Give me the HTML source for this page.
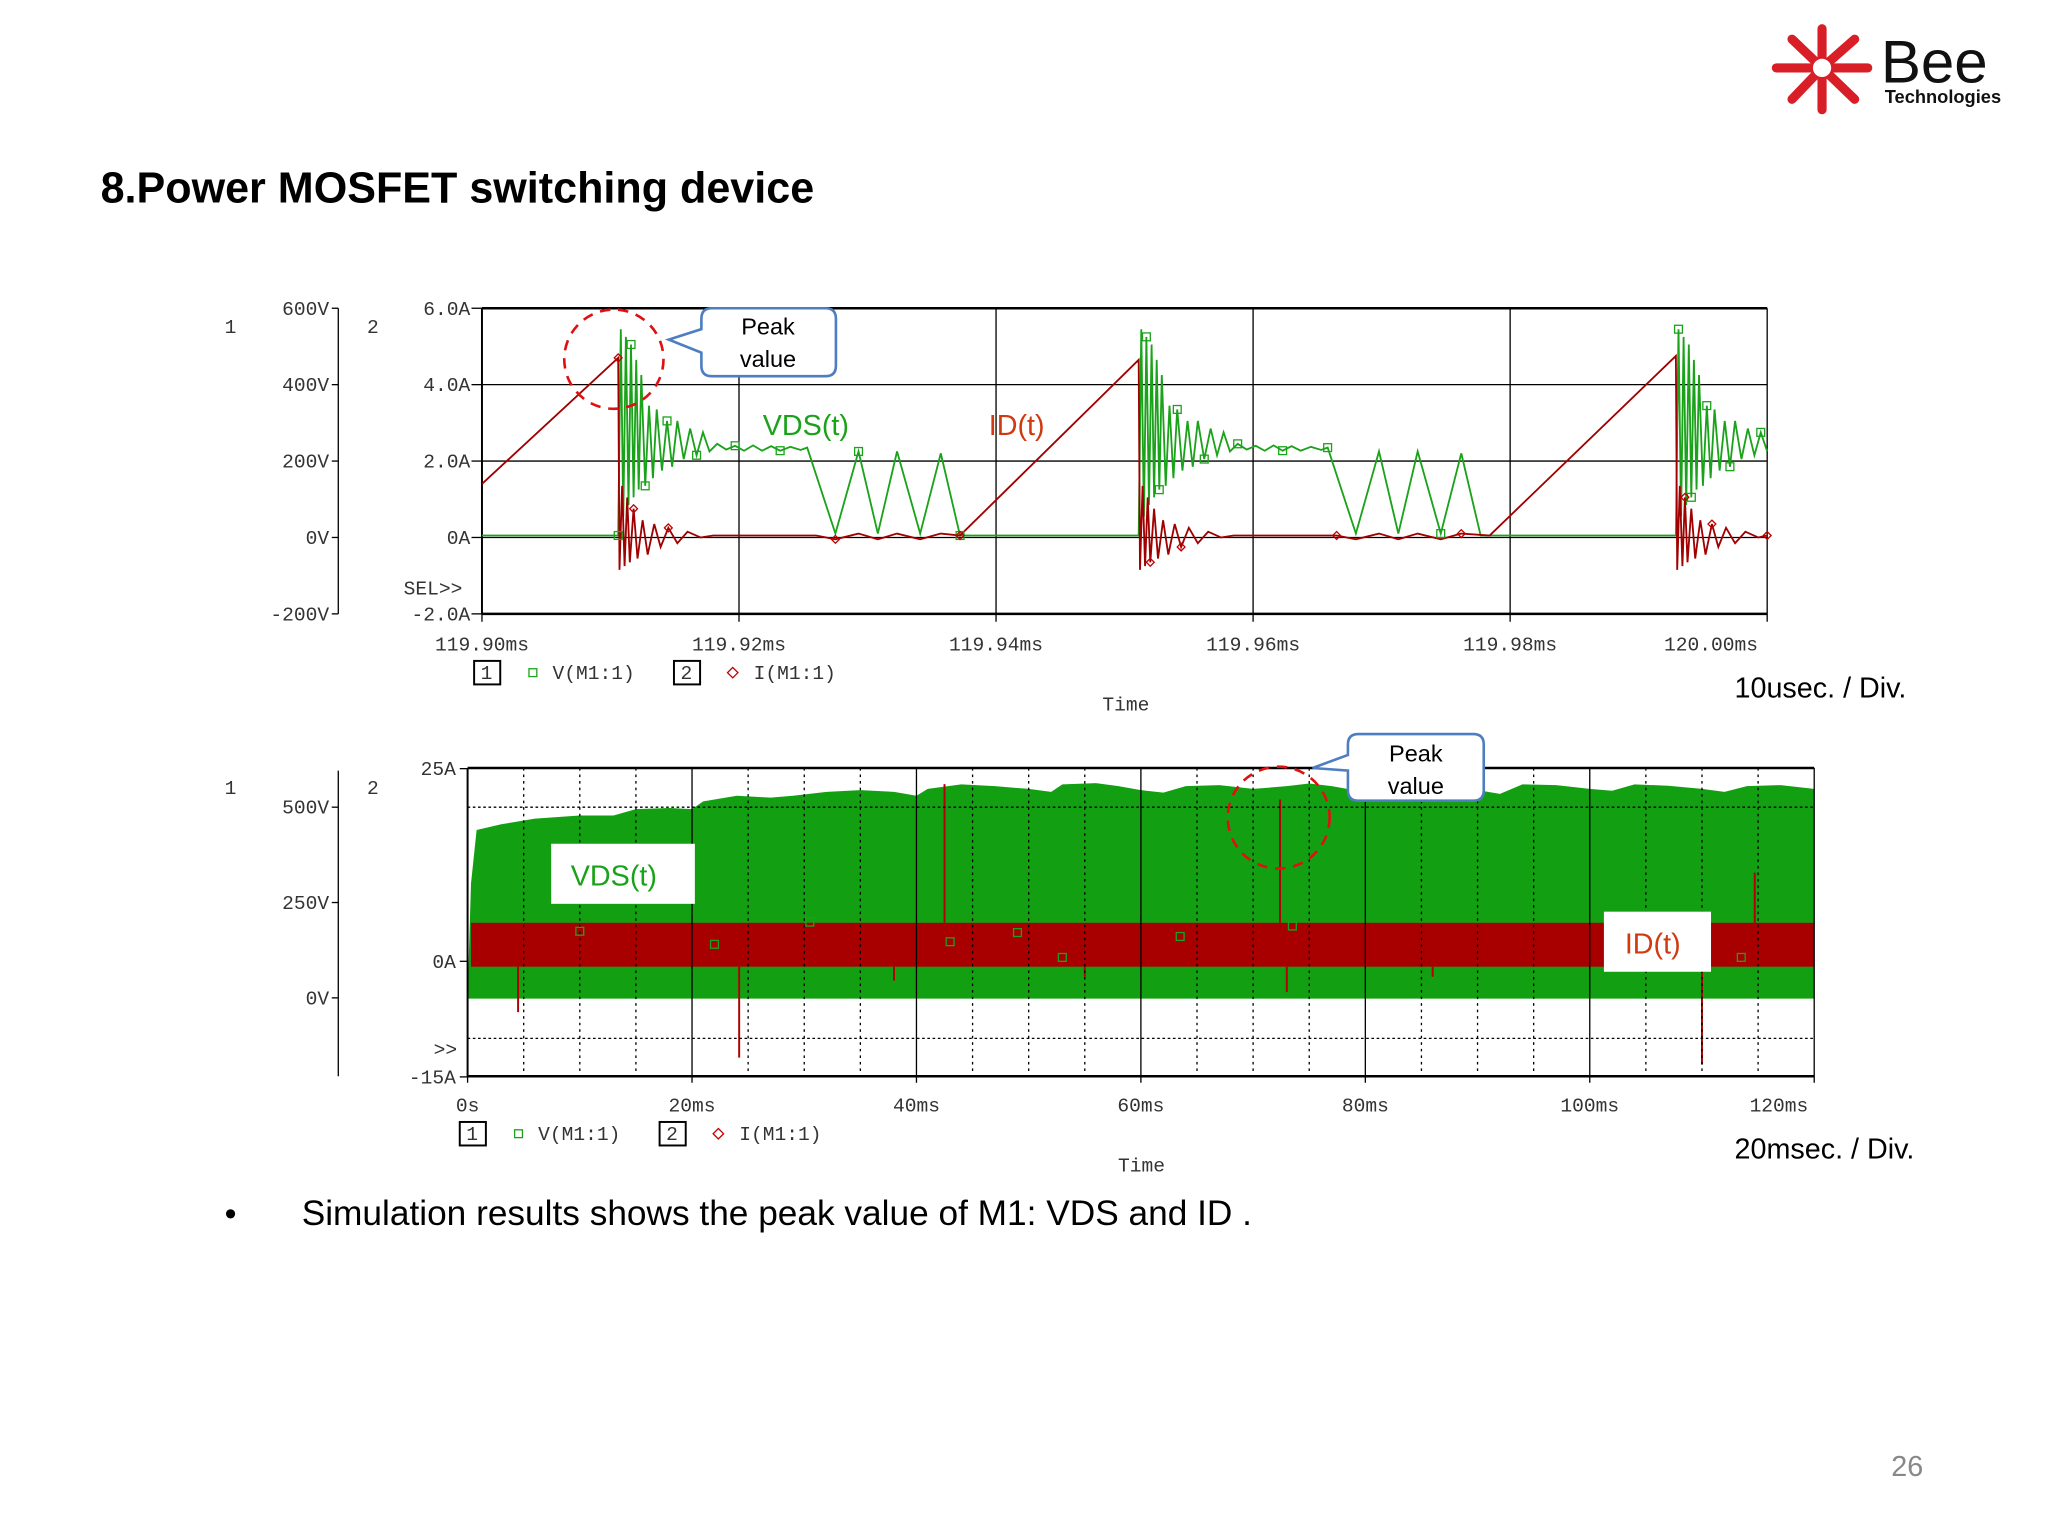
<!DOCTYPE html>
<html><head><meta charset="utf-8">
<style>
html,body{margin:0;padding:0;background:#fff;}
svg{display:block;}
.mono{font-family:"Liberation Mono",monospace;font-size:15px;fill:#333;}
.sans{font-family:"Liberation Sans",sans-serif;}
</style></head>
<body>
<svg id="s" width="2048" height="1536" viewBox="0 0 1568 1176" xmlns="http://www.w3.org/2000/svg">
<rect width="1568" height="1176" fill="#fff"/>
<g id="logo">
  <g stroke="#d81e26" stroke-width="7" stroke-linecap="round">
    <line x1="1395" y1="52" x2="1395" y2="22"/><line x1="1395" y1="52" x2="1395" y2="84"/>
    <line x1="1395" y1="52" x2="1360" y2="52"/><line x1="1395" y1="52" x2="1430" y2="52"/>
    <line x1="1395" y1="52" x2="1372" y2="30"/><line x1="1395" y1="52" x2="1420" y2="30"/>
    <line x1="1395" y1="52" x2="1372" y2="76"/><line x1="1395" y1="52" x2="1420" y2="76"/>
  </g>
  <circle cx="1395" cy="52" r="7" fill="#fff"/>
  <text x="1440" y="63" class="sans" font-size="46" fill="#111">Bee</text>
  <text x="1443" y="79" class="sans" font-size="14" font-weight="bold" fill="#111">Technologies</text>
</g>
<text x="77" y="155" class="sans" font-size="33" font-weight="bold" fill="#000">8.Power MOSFET switching device</text>
<g id="top"></g>
<g id="bot"></g>
<text x="172" y="938" class="sans" font-size="26" fill="#000">•</text>
<text x="231" y="938" class="sans" font-size="27" fill="#000">Simulation results shows the peak value of M1: VDS and ID .</text>
<text x="1448" y="1130" class="sans" font-size="22" fill="#888">26</text>
</svg>
<script>
// ---------- TOP CHART DATA (time in µs after 119.90ms) ----------
const topXTicks = ["119.90ms","119.92ms","119.94ms","119.96ms","119.98ms","120.00ms"];
const topVTicks = ["600V","400V","200V","0V","-200V"];
const topITicks = ["6.0A","4.0A","2.0A","0A","-2.0A"];
const vdsT = [0,10.5,10.6,10.8,11.0,11.2,11.4,11.6,11.8,12.0,12.2,12.4,12.7,13.0,13.3,13.6,14.0,14.4,14.8,15.2,15.7,16.2,16.7,17.2,17.7,18.3,19.0,19.7,20.4,21.1,21.8,22.5,23.2,24.0,24.8,25.3,27.5,29.3,30.8,32.3,34.1,35.7,37.2,
 51.0,51.1,51.3,51.5,51.7,51.9,52.1,52.3,52.5,52.7,52.9,53.2,53.5,53.8,54.1,54.5,54.9,55.3,55.7,56.2,56.7,57.2,57.7,58.2,58.8,59.5,60.2,60.9,61.6,62.3,63.0,63.7,64.5,65.3,65.8,68.0,69.8,71.3,72.8,74.6,76.2,77.7,
 92.8,92.9,93.1,93.3,93.5,93.7,93.9,94.1,94.3,94.5,94.7,95.0,95.3,95.6,95.9,96.3,96.7,97.1,97.5,98.0,98.5,99.0,99.5,100];
const vdsV = [0,0,0,540,50,520,80,500,100,460,120,420,130,340,150,330,170,300,180,300,200,280,210,270,220,240,225,235,222,236,222,234,222,232,224,230,5,220,5,220,5,215,0,
 0,0,540,50,520,80,500,100,460,120,420,130,340,150,330,170,300,180,300,200,280,210,270,220,240,225,235,222,236,222,234,222,232,224,230,5,220,5,220,5,215,0,
 0,0,540,50,520,80,500,100,460,120,420,130,340,150,330,170,300,180,300,200,280,210,270,220];
const idT = [0,10.6,10.7,10.9,11.1,11.3,11.5,11.8,12.1,12.5,12.9,13.4,13.9,14.5,15.2,16.0,17.0,18.0,26.0,27.5,29.3,30.8,32.3,34.1,35.7,37.2,
 51.1,51.2,51.4,51.6,51.8,52.0,52.3,52.6,53.0,53.4,53.9,54.4,55.0,55.7,56.5,57.5,58.5,66.5,68.0,69.8,71.3,72.8,74.6,76.2,78.4,
 92.9,93.0,93.2,93.4,93.6,93.8,94.1,94.4,94.8,95.2,95.7,96.2,96.8,97.5,98.3,99.3,100];
const idV = [1.35,4.65,-0.9,1.3,-0.8,1.0,-0.7,0.7,-0.6,0.4,-0.5,0.3,-0.3,0.2,-0.2,0.1,-0.05,0,0,-0.1,0.05,-0.1,0.05,-0.1,0.05,0,
 4.6,-0.9,1.3,-0.8,1.0,-0.7,0.7,-0.6,0.4,-0.5,0.3,-0.3,0.2,-0.2,0.1,-0.05,0,0,-0.1,0.05,-0.1,0.05,-0.1,0.05,0,
 4.7,-0.9,1.3,-0.8,1.0,-0.7,0.7,-0.6,0.4,-0.5,0.3,-0.3,0.2,-0.2,0.1,-0.05,0];
// ---------- BOTTOM CHART DATA (time in ms) ----------
const botXTicks = ["0s","20ms","40ms","60ms","80ms","100ms","120ms"];
const botVTicks = ["500V","250V","0V"];
const botITicks = ["25A","0A","-15A"];
const envT = [0,0.3,0.8,3,6,10,13,15,18,20,21,24,27,29,32,35,38,40,41,44,47,50,52,53,56,58,60,62,64,67,70,73,75,77,79,81,84,87,90,92,94,97,100,102,104,107,110,112,114,117,120];
const envV = [0,300,440,455,470,478,478,495,498,495,515,530,525,530,540,545,540,530,548,560,555,548,540,560,563,555,545,538,555,558,548,555,562,555,545,560,560,548,545,535,560,558,548,543,560,556,548,540,555,558,548];
const idBandMax = 5.0;
const idBandMin = -0.7;
const spikeT = [4.5,24.2,42.5,72.4,73.0,110.0,114.7,38,55,86];
const spikeA = [-6.6,-12.5,23,21,-4,-13.4,11.5,-2.5,-2,-2];

const NS="http://www.w3.org/2000/svg";
function mk(parent,tag,attrs,name,txt){
  const e=document.createElementNS(NS,tag);
  for(const k in attrs) e.setAttribute(k,attrs[k]);
  
  
  if(txt!==undefined) e.textContent=txt;
  parent.appendChild(e); return e;
}
// ===== TOP =====
(function(){
  const g=document.getElementById('top');
  const L=369,R=1353,T=236,B=470;
  const x=t=>L+(R-L)*t/100;
  const yI=a=>410-a*29.25;
  const yV=v=>410-v*0.2925;
  for(let i=0;i<5;i++){const yy=T+i*58.5;
    mk(g,'line',{x1:L,x2:R,y1:yy,y2:yy,stroke:'#000','stroke-width':(i==0||i==4)?2:1},'h-grid');
    mk(g,'line',{x1:361,x2:L,y1:yy,y2:yy,stroke:'#000'},'i-tick');
    mk(g,'line',{x1:254,x2:259,y1:yy,y2:yy,stroke:'#000'},'v-tick');
    mk(g,'text',{x:360,y:yy+5,'text-anchor':'end',class:'mono'},'i-tick-label',topITicks[i]);
    mk(g,'text',{x:252,y:yy+5,'text-anchor':'end',class:'mono'},'v-tick-label',topVTicks[i]);
  }
  for(let i=0;i<6;i++){const xx=x(i*20);
    mk(g,'line',{x1:xx,x2:xx,y1:T,y2:B+6,stroke:'#000','stroke-width':1},'v-grid');
    mk(g,'text',{x:i==5?1310:xx,y:498,'text-anchor':'middle',class:'mono'},'x-tick-label',topXTicks[i]);
  }
  mk(g,'line',{x1:L,x2:L,y1:T,y2:B,stroke:'#000','stroke-width':1.5},'i-axis');
  mk(g,'line',{x1:259,x2:259,y1:T,y2:B,stroke:'#000'},'v-axis');
  mk(g,'text',{x:172,y:255,class:'mono'},'axis-1-label','1');
  mk(g,'text',{x:281,y:255,class:'mono'},'axis-2-label','2');
  mk(g,'text',{x:309,y:455,class:'mono'},'sel-marker','SEL>>');
  let p=vdsT.map((t,i)=>x(t).toFixed(1)+','+yV(vdsV[i]).toFixed(1)).join(' ');
  mk(g,'polyline',{points:p,fill:'none',stroke:'#1aa31a','stroke-width':1.4},'vds-line');
  p=idT.map((t,i)=>x(t).toFixed(1)+','+yI(idV[i]).toFixed(1)).join(' ');
  mk(g,'polyline',{points:p,fill:'none',stroke:'#a00000','stroke-width':1.4},'id-line');
  vdsT.forEach((t,i)=>{ if(i%5==2) mk(g,'rect',{x:x(t)-3,y:yV(vdsV[i])-3,width:6,height:6,fill:'none',stroke:'#1aa31a'},'vds-marker');});
  idT.forEach((t,i)=>{ if(i%6==1){const cx=x(t),cy=yI(idV[i]); mk(g,'polygon',{points:`${cx},${cy-3} ${cx+3},${cy} ${cx},${cy+3} ${cx-3},${cy}`,fill:'none',stroke:'#c00000'},'id-marker');}});
  mk(g,'circle',{cx:470,cy:275,r:38,fill:'none',stroke:'#e01010','stroke-width':2,'stroke-dasharray':'8,6'},'peak-circle');
  mk(g,'path',{d:'M545,236 H632 Q640,236 640,244 V280 Q640,288 632,288 H545 Q537,288 537,280 V270 L512,260 L537,252 V244 Q537,236 545,236 Z',fill:'#fff',stroke:'#4f7ec0','stroke-width':2},'peak-callout');
  mk(g,'text',{x:588,y:256,'text-anchor':'middle',class:'sans','font-size':18,fill:'#000'},'callout-text','Peak');
  mk(g,'text',{x:588,y:281,'text-anchor':'middle',class:'sans','font-size':18,fill:'#000'},'callout-text','value');
  mk(g,'text',{x:584,y:333,class:'sans','font-size':22,fill:'#1aa31a'},'vds-label','VDS(t)');
  mk(g,'text',{x:757,y:333,class:'sans','font-size':22,fill:'#d03a10'},'id-label','ID(t)');
  mk(g,'rect',{x:363,y:506,width:20,height:18,fill:'none',stroke:'#000','stroke-width':1.5},'legend-box-1');
  mk(g,'text',{x:368,y:520,class:'mono'},'legend-num','1');
  mk(g,'rect',{x:405,y:512,width:6,height:6,fill:'none',stroke:'#1aa31a'},'legend-vds-marker');
  mk(g,'text',{x:423,y:520,class:'mono'},'legend-vds','V(M1:1)');
  mk(g,'rect',{x:516,y:506,width:20,height:18,fill:'none',stroke:'#000','stroke-width':1.5},'legend-box-2');
  mk(g,'text',{x:521,y:520,class:'mono'},'legend-num','2');
  mk(g,'polygon',{points:'561,511 565,515 561,519 557,515',fill:'none',stroke:'#c00000'},'legend-id-marker');
  mk(g,'text',{x:577,y:520,class:'mono'},'legend-id','I(M1:1)');
  mk(g,'text',{x:862,y:544,'text-anchor':'middle',class:'mono'},'x-axis-title','Time');
  mk(g,'text',{x:1328,y:534,class:'sans','font-size':22,fill:'#000'},'scale-note','10usec. / Div.');
})();
// ===== BOTTOM =====
(function(){
  const g=document.getElementById('bot');
  const L=358,R=1389,T=588,B=824;
  const x=t=>L+(R-L)*t/120;
  const yI=a=>736-a*5.9;
  const yV=v=>764-v*0.292;
  let pts=envT.map((t,i)=>x(t).toFixed(1)+','+yV(envV[i]).toFixed(1));
  let poly=[x(0)+','+yV(-2)];
  for(let i=0;i<envT.length;i++){poly.push(pts[i]);}
  poly.push(x(120)+','+yV(-2));
  mk(g,'polygon',{points:poly.join(' '),fill:'#12a012'},'vds-envelope');
  mk(g,'rect',{x:x(0.3),y:yI(idBandMax),width:x(120)-x(0.3),height:yI(idBandMin)-yI(idBandMax),fill:'#a80000'},'id-band');
  spikeT.forEach((t,i)=>{ mk(g,'line',{x1:x(t),x2:x(t),y1:yI(spikeA[i]>0?idBandMax:idBandMin),y2:yI(spikeA[i]),stroke:'#b00000','stroke-width':1.5},'id-spike');});
  for(let k=1;k<24;k++){ if(k%4==0) continue; const xx=x(k*5);
    mk(g,'line',{x1:xx,x2:xx,y1:T,y2:B,stroke:'#000','stroke-width':1,'stroke-dasharray':'2,3'},'minor-v-grid');}
  for(let i=0;i<7;i++){const xx=x(i*20);
    mk(g,'line',{x1:xx,x2:xx,y1:T,y2:B+5,stroke:'#000','stroke-width':1},'v-grid');
    mk(g,'text',{x:i==6?1362:xx,y:851,'text-anchor':'middle',class:'mono'},'x-tick-label',botXTicks[i]);}
  [20,-10].forEach(a=>mk(g,'line',{x1:L,x2:R,y1:yI(a),y2:yI(a),stroke:'#000','stroke-dasharray':'2,2'},'dotted-h-grid'));
  mk(g,'line',{x1:L,x2:R,y1:T,y2:T,stroke:'#000','stroke-width':2},'top-border');
  mk(g,'line',{x1:L,x2:R,y1:B,y2:B,stroke:'#000','stroke-width':2},'bottom-border');
  mk(g,'line',{x1:L,x2:L,y1:T,y2:B,stroke:'#000','stroke-width':1.5},'i-axis');
  mk(g,'line',{x1:259,x2:259,y1:590,y2:B,stroke:'#000'},'v-axis');
  [25,0,-15].forEach((a,i)=>{mk(g,'line',{x1:352,x2:L,y1:yI(a),y2:yI(a),stroke:'#000'},'i-tick');
    mk(g,'text',{x:349,y:yI(a)+5,'text-anchor':'end',class:'mono'},'i-tick-label',botITicks[i]);});
  [500,250,0].forEach((v,i)=>{mk(g,'line',{x1:254,x2:259,y1:yV(v),y2:yV(v),stroke:'#000'},'v-tick');
    mk(g,'text',{x:252,y:yV(v)+5,'text-anchor':'end',class:'mono'},'v-tick-label',botVTicks[i]);});
  mk(g,'text',{x:172,y:608,class:'mono'},'axis-1-label','1');
  mk(g,'text',{x:281,y:608,class:'mono'},'axis-2-label','2');
  mk(g,'text',{x:332,y:808,class:'mono'},'sel-marker','>>');
  [10,22,43,49,53,63.5,73.5,113.5,30.5].forEach((t,i)=>mk(g,'rect',{x:x(t)-3,y:[713,723,721,714,733,717,709,733,706][i]-3,width:6,height:6,fill:'none',stroke:'#1aa31a'},'vds-marker'));
  mk(g,'rect',{x:422,y:646,width:110,height:46,fill:'#fff'},'vds-label-box');
  mk(g,'text',{x:437,y:678,class:'sans','font-size':22,fill:'#1aa31a'},'vds-label','VDS(t)');
  mk(g,'rect',{x:1228,y:698,width:82,height:46,fill:'#fff'},'id-label-box');
  mk(g,'text',{x:1244,y:730,class:'sans','font-size':22,fill:'#d03a10'},'id-label','ID(t)');
  mk(g,'ellipse',{cx:979,cy:626,rx:39,ry:39,fill:'none',stroke:'#e01010','stroke-width':2,'stroke-dasharray':'8,6'},'peak-circle');
  mk(g,'path',{d:'M1040,562 H1128 Q1136,562 1136,570 V605 Q1136,613 1128,613 H1040 Q1032,613 1032,605 V590 L1005,588 L1032,578 V570 Q1032,562 1040,562 Z',fill:'#fff',stroke:'#4f7ec0','stroke-width':2},'peak-callout');
  mk(g,'text',{x:1084,y:583,'text-anchor':'middle',class:'sans','font-size':18,fill:'#000'},'callout-text','Peak');
  mk(g,'text',{x:1084,y:608,'text-anchor':'middle',class:'sans','font-size':18,fill:'#000'},'callout-text','value');
  mk(g,'rect',{x:352,y:859,width:20,height:18,fill:'none',stroke:'#000','stroke-width':1.5},'legend-box-1');
  mk(g,'text',{x:357,y:873,class:'mono'},'legend-num','1');
  mk(g,'rect',{x:394,y:865,width:6,height:6,fill:'none',stroke:'#1aa31a'},'legend-vds-marker');
  mk(g,'text',{x:412,y:873,class:'mono'},'legend-vds','V(M1:1)');
  mk(g,'rect',{x:505,y:859,width:20,height:18,fill:'none',stroke:'#000','stroke-width':1.5},'legend-box-2');
  mk(g,'text',{x:510,y:873,class:'mono'},'legend-num','2');
  mk(g,'polygon',{points:'550,864 554,868 550,872 546,868',fill:'none',stroke:'#c00000'},'legend-id-marker');
  mk(g,'text',{x:566,y:873,class:'mono'},'legend-id','I(M1:1)');
  mk(g,'text',{x:874,y:897,'text-anchor':'middle',class:'mono'},'x-axis-title','Time');
  mk(g,'text',{x:1328,y:887,class:'sans','font-size':22,fill:'#000'},'scale-note','20msec. / Div.');
})();
</script>
</body></html>
